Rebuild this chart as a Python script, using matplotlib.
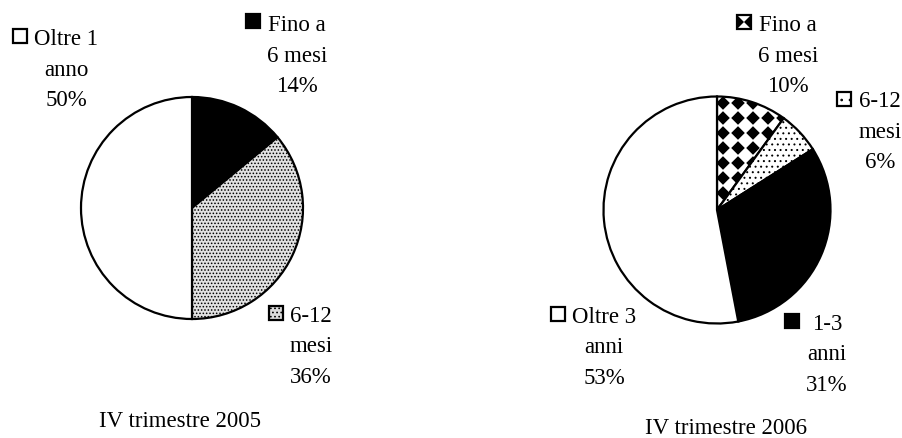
import matplotlib
matplotlib.use("Agg")
import matplotlib.pyplot as plt
import numpy as np
from matplotlib.patches import Rectangle, Polygon
from matplotlib.collections import PatchCollection

# quota per durata - IV trimestre 2005
labels_2005 = ["Fino a\n6 mesi", "6-12\nmesi", "Oltre 1\nanno"]
values_2005 = [14, 36, 50]

# quota per durata - IV trimestre 2006
labels_2006 = ["Fino a\n6 mesi", "6-12\nmesi", "1-3\nanni", "Oltre 3\nanni"]
values_2006 = [10, 6, 31, 53]

titles = ["IV trimestre 2005", "IV trimestre 2006"]

W, H = 902, 439
FONT = dict(family="Liberation Serif", size=16.5, color="black")
plt.rcParams["hatch.linewidth"] = 0.7


def Y(y):
  # pixel rows are counted from the top
  return H - y


def diamond_fill(ax, clip, x0, x1, y0, y1, step=15.0, half=6.8):
  polys = []
  for cx in np.arange(x0, x1, step):
    for cy in np.arange(y0, y1, step):
      polys.append(Polygon([(cx - half, cy), (cx, cy + half), (cx + half, cy), (cx, cy - half)]))
  pc = PatchCollection(polys, facecolor="black", edgecolor="none", zorder=clip.get_zorder() + 0.1)
  ax.add_collection(pc)
  pc.set_clip_path(clip)


def key_box(ax, x, y, style, size=14):
  # small legend key drawn before the first label line
  r = Rectangle((x, Y(y) - size), size, size, facecolor="white", edgecolor="black", linewidth=1.6, zorder=5)
  if style == "black":
    r.set_facecolor("black")
  elif style == "dense":
    r.set_facecolor("#dcdcdc")
    r.set_hatch("....")
  elif style == "sparse":
    r.set_hatch("..")
  ax.add_patch(r)
  if style == "diamond":
    yc = Y(y) - size / 2
    for cx in (x, x + size):
      tri = Polygon([(cx - size / 2, yc), (cx, yc + size / 2), (cx + size / 2, yc), (cx, yc - size / 2)],
                    facecolor="black", edgecolor="none", zorder=5.1)
      ax.add_patch(tri)
      tri.set_clip_path(r)


def label(ax, text, cx, base_y, key_x, key_y, style, dy=30.5):
  for i, line in enumerate(text.split("\n")):
    ax.text(cx, Y(base_y + i * dy), line, ha="center", va="baseline", **FONT)
  key_box(ax, key_x, key_y, style)


fig = plt.figure(figsize=(W / 100, H / 100), dpi=100)
ax = fig.add_axes([0, 0, 1, 1])

# left pie
c1, r1 = (192, Y(209)), 111
w1, _ = ax.pie(values_2005, center=c1, radius=r1, startangle=90, counterclock=False,
               colors=["black", "#e2e2e2", "white"],
               wedgeprops=dict(edgecolor="black", linewidth=1.6))
w1[1].set_hatch(".....")

# right pie
c2, r2 = (717, Y(211)), 113.5
w2, _ = ax.pie(values_2006, center=c2, radius=r2, startangle=90, counterclock=False,
               colors=["white", "white", "black", "white"],
               wedgeprops=dict(edgecolor="black", linewidth=1.6))
w2[1].set_hatch("...")
diamond_fill(ax, w2[0], c2[0] + 6, c2[0] + r2, c2[1] - 13, c2[1] + r2 + 15)

# data labels with legend keys
pct = lambda v: "%d%%" % v
label(ax, labels_2005[0] + "\n" + pct(values_2005[0]), 297, 31, 246, 15, "black")
label(ax, labels_2005[1] + "\n" + pct(values_2005[1]), 311, 322, 269, 307, "dense")
label(ax, labels_2005[2] + "\n" + pct(values_2005[2]), 66, 45, 13, 30, "white")

label(ax, labels_2006[0] + "\n" + pct(values_2006[0]), 788, 31, 737, 16, "diamond")
label(ax, labels_2006[1] + "\n" + pct(values_2006[1]), 880, 107, 837, 93, "sparse")
label(ax, labels_2006[2] + "\n" + pct(values_2006[2]), 827, 330, 785, 315, "black")
label(ax, labels_2006[3] + "\n" + pct(values_2006[3]), 604, 323, 551, 308, "white")

ax.text(180, Y(427), titles[0], ha="center", va="baseline", **FONT)
ax.text(726, Y(434), titles[1], ha="center", va="baseline", **FONT)

ax.set_xlim(0, W)
ax.set_ylim(0, H)
ax.set_aspect("equal")
ax.axis("off")

fig.savefig("out.png", dpi=100)
